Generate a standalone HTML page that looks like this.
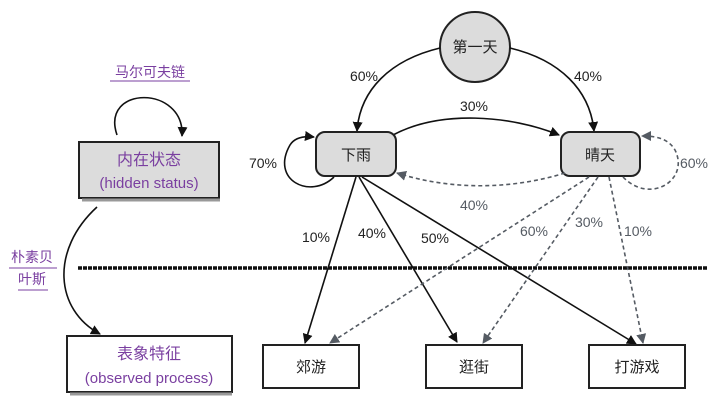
<!DOCTYPE html><html><head><meta charset="utf-8"><style>
body{margin:0;background:#fff;width:720px;height:406px;overflow:hidden}
svg{font-family:"Liberation Sans","Noto Sans CJK SC",sans-serif}
</style></head><body>
<svg width="720" height="406" viewBox="0 0 720 406" xmlns="http://www.w3.org/2000/svg">
<defs>
<marker id="a" markerWidth="10" markerHeight="10" refX="9" refY="5" orient="auto" markerUnits="userSpaceOnUse"><path d="M0,0 L10,5 L0,10 z" fill="#111"/></marker>
<marker id="g" markerWidth="10" markerHeight="10" refX="9" refY="5" orient="auto" markerUnits="userSpaceOnUse"><path d="M0,0 L10,5 L0,10 z" fill="#555b63"/></marker>
</defs>
<text x="150" y="77" font-size="14" fill="#7a3fa0" text-anchor="middle">马尔可夫链</text>
<line x1="110" y1="81" x2="190" y2="81" stroke="#7a3fa0"/>
<path d="M117,135 C100,85 185,85 182,136" fill="none" stroke="#111" stroke-width="1.6" marker-end="url(#a)"/>
<rect x="79" y="142" width="140" height="56" fill="#dcdcdc" stroke="#222" stroke-width="2"/>
<line x1="82" y1="200" x2="220" y2="200" stroke="#999" stroke-width="3"/>
<text x="149" y="165" font-size="16" fill="#7a3fa0" text-anchor="middle">内在状态</text>
<text x="149" y="188" font-size="15" fill="#7a3fa0" text-anchor="middle">(hidden status)</text>
<text x="32" y="262" font-size="14" fill="#7a3fa0" text-anchor="middle">朴素贝</text>
<line x1="9" y1="268" x2="57" y2="268" stroke="#7a3fa0"/>
<text x="32" y="284" font-size="14" fill="#7a3fa0" text-anchor="middle">叶斯</text>
<line x1="18" y1="290" x2="48" y2="290" stroke="#7a3fa0"/>
<path d="M97,207 C50,250 55,310 100,334" fill="none" stroke="#111" stroke-width="1.6" marker-end="url(#a)"/>
<rect x="67" y="336" width="165" height="56" fill="#fff" stroke="#222" stroke-width="2"/>
<line x1="70" y1="394" x2="232" y2="394" stroke="#999" stroke-width="3"/>
<text x="149" y="359" font-size="16" fill="#7a3fa0" text-anchor="middle">表象特征</text>
<text x="149" y="383" font-size="15" fill="#7a3fa0" text-anchor="middle">(observed process)</text>
<line x1="78" y1="268" x2="708" y2="268" stroke="#111" stroke-width="3.5" stroke-dasharray="4,1"/>
<circle cx="475" cy="47" r="35" fill="#dcdcdc" stroke="#222" stroke-width="2"/>
<text x="475" y="52" font-size="15" fill="#222" text-anchor="middle">第一天</text>
<path d="M440,48 C390,60 360,90 357,131" fill="none" stroke="#111" stroke-width="1.6" marker-end="url(#a)"/>
<path d="M510,48 C560,60 590,90 594,131" fill="none" stroke="#111" stroke-width="1.6" marker-end="url(#a)"/>
<text x="364" y="81" font-size="14" fill="#222" text-anchor="middle">60%</text>
<text x="588" y="81" font-size="14" fill="#222" text-anchor="middle">40%</text>
<path d="M393,135 C440,110 510,115 559,135" fill="none" stroke="#111" stroke-width="1.6" marker-end="url(#a)"/>
<text x="474" y="111" font-size="14" fill="#222" text-anchor="middle">30%</text>
<rect x="316" y="132" width="80" height="44" rx="9" fill="#dcdcdc" stroke="#222" stroke-width="2"/>
<text x="356" y="160" font-size="15" fill="#222" text-anchor="middle">下雨</text>
<rect x="561" y="132" width="79" height="44" rx="9" fill="#dcdcdc" stroke="#222" stroke-width="2"/>
<text x="600" y="160" font-size="15" fill="#222" text-anchor="middle">晴天</text>
<path d="M334,177 C310,200 270,180 290,145 C295,137 305,136 314,137" fill="none" stroke="#111" stroke-width="1.6" marker-end="url(#a)"/>
<text x="263" y="168" font-size="14" fill="#222" text-anchor="middle">70%</text>
<path d="M623,177 C650,205 690,180 675,150 C668,138 655,136 642,136" fill="none" stroke="#555b63" stroke-width="1.6" stroke-dasharray="4,3" marker-end="url(#g)"/>
<text x="694" y="168" font-size="14" fill="#555b63" text-anchor="middle">60%</text>
<path d="M565,173 C510,190 450,190 397,173" fill="none" stroke="#555b63" stroke-width="1.6" stroke-dasharray="4,3" marker-end="url(#g)"/>
<text x="474" y="210" font-size="14" fill="#555b63" text-anchor="middle">40%</text>
<line x1="356" y1="177" x2="305" y2="343" stroke="#111" stroke-width="1.6" marker-end="url(#a)"/>
<line x1="359" y1="177" x2="457" y2="342" stroke="#111" stroke-width="1.6" marker-end="url(#a)"/>
<line x1="362" y1="177" x2="636" y2="344" stroke="#111" stroke-width="1.6" marker-end="url(#a)"/>
<text x="316" y="242" font-size="14" fill="#222" text-anchor="middle">10%</text>
<text x="372" y="238" font-size="14" fill="#222" text-anchor="middle">40%</text>
<text x="435" y="243" font-size="14" fill="#222" text-anchor="middle">50%</text>
<line x1="589" y1="177" x2="330" y2="343" stroke="#555b63" stroke-width="1.6" stroke-dasharray="4,3" marker-end="url(#g)"/>
<line x1="598" y1="177" x2="483" y2="343" stroke="#555b63" stroke-width="1.6" stroke-dasharray="4,3" marker-end="url(#g)"/>
<line x1="609" y1="177" x2="643" y2="343" stroke="#555b63" stroke-width="1.6" stroke-dasharray="4,3" marker-end="url(#g)"/>
<text x="534" y="236" font-size="14" fill="#555b63" text-anchor="middle">60%</text>
<text x="589" y="227" font-size="14" fill="#555b63" text-anchor="middle">30%</text>
<text x="638" y="236" font-size="14" fill="#555b63" text-anchor="middle">10%</text>
<rect x="263" y="345" width="96" height="43" fill="#fff" stroke="#222" stroke-width="2"/>
<text x="311" y="372" font-size="15" fill="#222" text-anchor="middle">郊游</text>
<rect x="426" y="345" width="96" height="43" fill="#fff" stroke="#222" stroke-width="2"/>
<text x="474" y="372" font-size="15" fill="#222" text-anchor="middle">逛街</text>
<rect x="589" y="345" width="96" height="43" fill="#fff" stroke="#222" stroke-width="2"/>
<text x="637" y="372" font-size="15" fill="#222" text-anchor="middle">打游戏</text>
</svg>
</body></html>
